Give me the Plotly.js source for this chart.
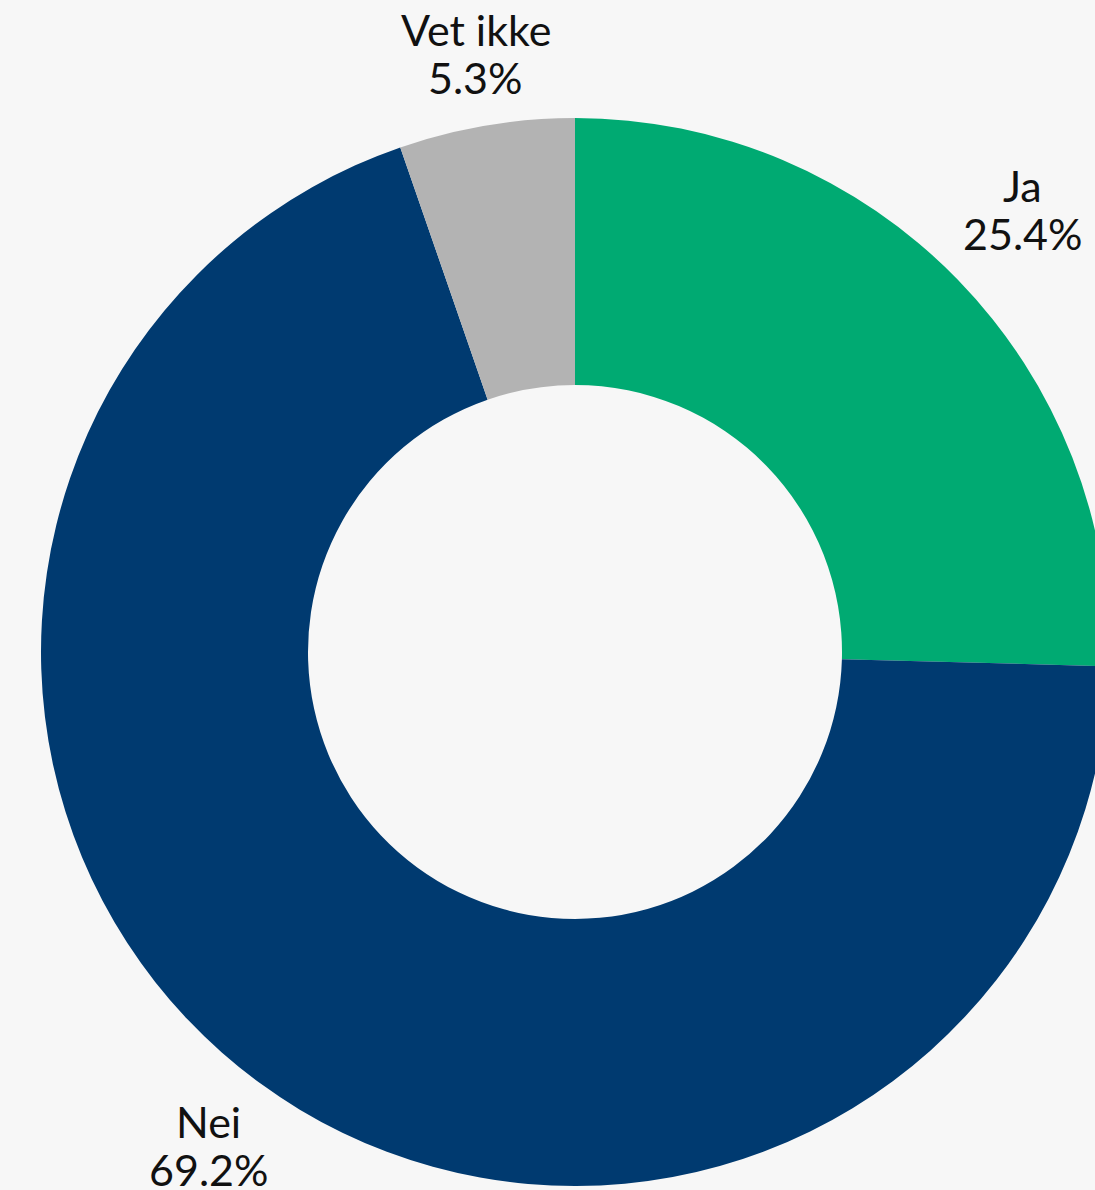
<!DOCTYPE html>
<html>
<head>
<meta charset="utf-8">
<script src="https://cdn.plot.ly/plotly-3.0.1.min.js"></script>
<style>
  html, body { margin: 0; padding: 0; background: #f7f7f7; overflow: hidden; }
  #chart { width: 1150px; height: 1190px; }
</style>
</head>
<body>
<div id="chart"></div>
<script>
// Data
const categories = ["Ja", "Nei", "Vet ikke"];
const values = [25.4, 69.2, 5.3];
const colors = ["#00aa72", "#003a70", "#b3b3b3"];

const W = 1150, H = 1190;
const margin = {l: 41, r: 41, t: 118, b: 4};
const plotSize = W - margin.l - margin.r; // 1068
const lineGap = 48;
const labelFont = {family: "Lato, 'Noto Sans', sans-serif", size: 43, color: "#111111"};

const total = values.reduce((a, b) => a + b, 0);
let cum = 0;
const annotations = [];
categories.forEach((c, i) => {
  const mid = (cum + values[i] / 2) / total * 2 * Math.PI;
  cum += values[i];
  const s = Math.sin(mid), co = Math.cos(mid);
  const extra = (10 + 68 * Math.abs(s) + 45 * Math.abs(co)) / plotSize;
  const d = 0.5 + extra;
  const cx = 0.5 + d * s, cy = 0.5 + d * co + 7 / plotSize;
  const half = lineGap / 2 / plotSize;
  annotations.push({
    xref: "paper", yref: "paper", x: cx, y: cy + half,
    xanchor: "center", yanchor: "middle",
    text: c, showarrow: false, font: labelFont
  });
  annotations.push({
    xref: "paper", yref: "paper", x: cx, y: cy - half,
    xanchor: "center", yanchor: "middle",
    text: values[i].toFixed(1) + "%", showarrow: false, font: labelFont
  });
});

const trace = {
  type: "pie",
  labels: categories,
  values: values,
  hole: 0.5,
  sort: false,
  direction: "clockwise",
  rotation: 0,
  textinfo: "none",
  hoverinfo: "none",
  marker: {colors: colors, line: {width: 0}},
  showlegend: false
};

const layout = {
  width: W, height: H,
  margin: margin,
  paper_bgcolor: "#f7f7f7",
  plot_bgcolor: "#f7f7f7",
  showlegend: false,
  annotations: annotations
};

Plotly.newPlot("chart", [trace], layout, {displayModeBar: false, staticPlot: true});
</script>
</body>
</html>
